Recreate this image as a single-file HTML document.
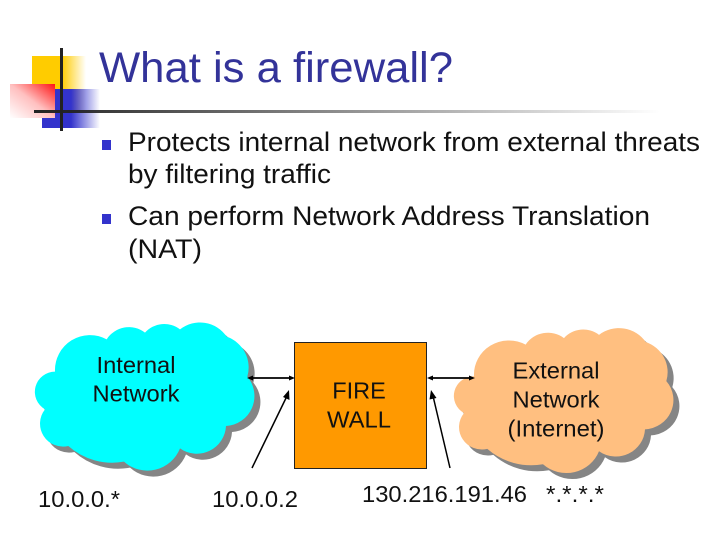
<!DOCTYPE html>
<html>
<head>
<meta charset="utf-8">
<style>
html,body{margin:0;padding:0;background:#fff;width:720px;height:540px;overflow:hidden}
svg{display:block}
text{font-family:"Liberation Sans",sans-serif;fill:#111}
</style>
</head>
<body>
<svg width="720" height="540" viewBox="0 0 720 540" xmlns="http://www.w3.org/2000/svg">
<defs>
<linearGradient id="y" x1="0" x2="1" y1="0" y2="0"><stop offset="0" stop-color="#ffcc00"/><stop offset=".55" stop-color="#ffcc00"/><stop offset="1" stop-color="#ffcc00" stop-opacity="0"/></linearGradient>
<linearGradient id="b" x1="0" x2="1" y1="0" y2="0"><stop offset="0" stop-color="#3333cc"/><stop offset=".5" stop-color="#3333cc"/><stop offset="1" stop-color="#3333cc" stop-opacity="0"/></linearGradient>
<linearGradient id="r" x1="1" x2="0" y1="0" y2="1"><stop offset="0" stop-color="#ff1414"/><stop offset=".5" stop-color="#ffc0c0"/><stop offset="1" stop-color="#ffffff"/></linearGradient>
<linearGradient id="l" x1="0" x2="1" y1="0" y2="0"><stop offset="0" stop-color="#222"/><stop offset="1" stop-color="#222" stop-opacity="0"/></linearGradient>
<path id="cloud" d="M45 268 A60.500 60.500 0 0 1 75 155 A105 105 0 0 1 230 58 A79 79 0 0 1 345 38 A77 77 0 0 1 450 28 A97 97 0 0 1 590 50 A98 98 0 0 1 652 170 A90 90 0 0 1 588 318 A87.500 87.500 0 0 1 450 385 A105 105 0 0 1 282 425 A198 198 0 0 1 115 378 A69 69 0 0 1 45 268 Z"/>
</defs>

<rect x="32" y="56" width="54" height="56" fill="url(#y)"/>
<rect x="42" y="89" width="58" height="39" fill="url(#b)"/>
<rect x="10" y="84" width="45" height="34" fill="url(#r)"/>
<rect x="60" y="48" width="3" height="83" fill="#222"/>
<rect x="34" y="110" width="626" height="3" fill="url(#l)"/>

<text x="99" y="82" font-size="42.500" style="fill:#333399" textLength="354" lengthAdjust="spacingAndGlyphs">What is a firewall?</text>

<rect x="102" y="140" width="9" height="10" fill="#3333cc"/>
<rect x="102" y="214" width="9" height="10" fill="#3333cc"/>
<text x="128" y="151" font-size="27" textLength="572" lengthAdjust="spacingAndGlyphs">Protects internal network from external threats</text>
<text x="128" y="183" font-size="27" textLength="203" lengthAdjust="spacingAndGlyphs">by filtering traffic</text>
<text x="128" y="225" font-size="27" textLength="522" lengthAdjust="spacingAndGlyphs">Can perform Network Address Translation</text>
<text x="128" y="258" font-size="27" textLength="74" lengthAdjust="spacingAndGlyphs">(NAT)</text>

<g transform="translate(36,326) scale(.33333)"><use href="#cloud" fill="#858585"/></g>
<g transform="translate(30,320) scale(.33333)"><use href="#cloud" fill="#00ffff"/></g>
<g transform="translate(455,331.700) scale(.33333,.326)"><use href="#cloud" fill="#858585"/></g>
<g transform="translate(449,325.700) scale(.33333,.326)"><use href="#cloud" fill="#ffbf80"/></g>

<rect x="294.500" y="342.500" width="132" height="126" fill="#ff9900" stroke="#222" stroke-width="1"/>

<text x="136" y="373" font-size="23.500" text-anchor="middle" textLength="79" lengthAdjust="spacingAndGlyphs">Internal</text>
<text x="136" y="401.500" font-size="23.500" text-anchor="middle" textLength="87" lengthAdjust="spacingAndGlyphs">Network</text>
<text x="359" y="398.500" font-size="23.500" text-anchor="middle">FIRE</text>
<text x="359" y="427.500" font-size="23.500" text-anchor="middle" textLength="64" lengthAdjust="spacingAndGlyphs">WALL</text>
<text x="556" y="378.500" font-size="23.500" text-anchor="middle" textLength="87" lengthAdjust="spacingAndGlyphs">External</text>
<text x="556" y="407.500" font-size="23.500" text-anchor="middle" textLength="87" lengthAdjust="spacingAndGlyphs">Network</text>
<text x="556" y="436.500" font-size="23.500" text-anchor="middle" textLength="97" lengthAdjust="spacingAndGlyphs">(Internet)</text>

<text x="38" y="507" font-size="23.500" textLength="82" lengthAdjust="spacingAndGlyphs">10.0.0.*</text>
<text x="212" y="507" font-size="23.500" textLength="86" lengthAdjust="spacingAndGlyphs">10.0.0.2</text>
<text x="362" y="502" font-size="23.500" textLength="165" lengthAdjust="spacingAndGlyphs">130.216.191.46</text>
<text x="546" y="502" font-size="23.500" textLength="58" lengthAdjust="spacingAndGlyphs">*.*.*.*</text>

<g stroke="#000" fill="none">
<line x1="250" y1="378" x2="292" y2="378" stroke-width="1.800"/>
<line x1="430" y1="378" x2="472" y2="378" stroke-width="1.800"/>
<line x1="252" y1="468" x2="287" y2="396" stroke-width="1.500"/>
<line x1="450" y1="468" x2="433" y2="396" stroke-width="1.500"/>
</g>
<g fill="#000">
<polygon points="247,378 253,375.500 253,380.500"/>
<polygon points="295,378 289,375.500 289,380.500"/>
<polygon points="427,378 433,375.500 433,380.500"/>
<polygon points="475,378 469,375.500 469,380.500"/>
<polygon points="289,390 289.500,400 283,397"/>
<polygon points="431,390 436.500,398 429.500,399.500"/>
</g>
</svg>
</body>
</html>
